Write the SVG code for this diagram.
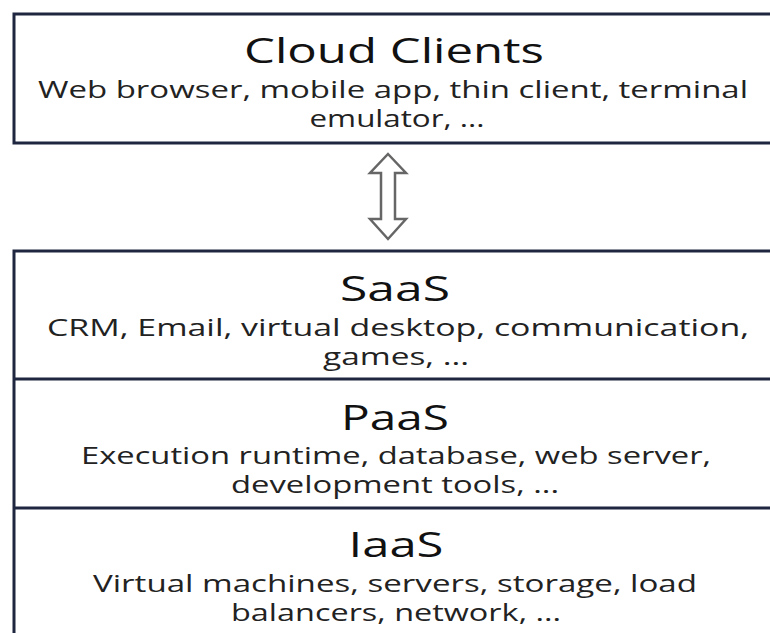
<svg xmlns="http://www.w3.org/2000/svg" width="770" height="633" viewBox="0 0 770 633">
<style>
.box{fill:#ffffff;stroke:#1e2640;stroke-width:3}
.sep{stroke:#1e2640;stroke-width:3}
.title{font-family:"Open Sans","Liberation Sans",sans-serif;font-size:35px;fill:#111;text-anchor:middle}
.body{font-family:"Open Sans","Liberation Sans",sans-serif;font-size:23px;fill:#222;text-anchor:middle}
.arrow{fill:#ffffff;stroke:#666;stroke-width:2.5;stroke-linejoin:miter}
</style>
<rect x="0" y="0" width="770" height="633" fill="#ffffff"/>
<g id="cloud-clients">
<path class="box" d="M772,14 H14 V143 H772"/>
<text class="title" x="394" y="63" textLength="300" lengthAdjust="spacingAndGlyphs">Cloud Clients</text>
<text class="body" x="393" y="98" textLength="710" lengthAdjust="spacingAndGlyphs">Web browser, mobile app, thin client, terminal</text>
<text class="body" x="397" y="127" textLength="175" lengthAdjust="spacingAndGlyphs">emulator, ...</text>
</g>
<g id="connectors">
<path class="arrow" d="M388,154 L406,173 L395,173 L395,219 L406,219 L388,239 L370,219 L381,219 L381,173 L370,173 Z"/>
</g>
<g id="stack">
<path class="box" d="M772,251 H14 V636"/>
<line class="sep" x1="14" y1="379" x2="772" y2="379"/>
<line class="sep" x1="14" y1="508" x2="772" y2="508"/>
</g>
<g id="saas">
<text class="title" x="395" y="301" textLength="110" lengthAdjust="spacingAndGlyphs">SaaS</text>
<text class="body" x="398" y="336" textLength="702" lengthAdjust="spacingAndGlyphs">CRM, Email, virtual desktop, communication,</text>
<text class="body" x="396" y="365" textLength="146" lengthAdjust="spacingAndGlyphs">games, ...</text>
</g>
<g id="paas">
<text class="title" x="395" y="430" textLength="108" lengthAdjust="spacingAndGlyphs">PaaS</text>
<text class="body" x="396" y="464" textLength="630" lengthAdjust="spacingAndGlyphs">Execution runtime, database, web server,</text>
<text class="body" x="395" y="493" textLength="328" lengthAdjust="spacingAndGlyphs">development tools, ...</text>
</g>
<g id="iaas">
<text class="title" x="396" y="557" textLength="95" lengthAdjust="spacingAndGlyphs">IaaS</text>
<text class="body" x="395" y="592" textLength="604" lengthAdjust="spacingAndGlyphs">Virtual machines, servers, storage, load</text>
<text class="body" x="396" y="621" textLength="330" lengthAdjust="spacingAndGlyphs">balancers, network, ...</text>
</g>
</svg>
